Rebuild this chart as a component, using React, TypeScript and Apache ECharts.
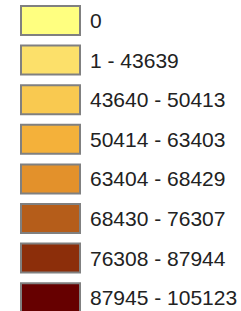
import React, { useEffect, useRef } from "react";
import * as echarts from "echarts";

const lowerBounds = [0, 1, 43640, 50414, 63404, 68430, 76308, 87945];
const upperBounds = [0, 43639, 50413, 63403, 68429, 76307, 87944, 105123];
const classColors = [
  "#FFFF80",
  "#FCE06A",
  "#F9C950",
  "#F4B13A",
  "#E3912B",
  "#B55D1A",
  "#8C2E0A",
  "#660000",
];

const classLabels = lowerBounds.map((lo, i) =>
  lo === upperBounds[i] ? `${lo}` : `${lo} - ${upperBounds[i]}`
);

export default function App() {
  const ref = useRef<HTMLDivElement>(null);
  useEffect(() => {
    if (!ref.current) return;
    const chart = echarts.init(ref.current, undefined, { renderer: "svg" });
    chart.setOption({
      animation: false,
      backgroundColor: "#ffffff",
      grid: { left: 0, right: 0, top: 0, bottom: 0, show: false },
      xAxis: { type: "category", show: false, data: [] },
      yAxis: { type: "value", show: false },
      legend: {
        type: "plain",
        orient: "vertical",
        left: 20,
        top: 5,
        height: 400,
        padding: 0,
        itemWidth: 59,
        itemHeight: 29,
        itemGap: 8.6,
        icon: "rect",
        selectedMode: false,
        itemStyle: { borderColor: "#808080", borderWidth: 2 },
        textStyle: {
          fontFamily: "Liberation Sans, Arial, sans-serif",
          fontSize: 21,
          color: "#222222",
          padding: [0, 0, 0, 5],
        },
        data: classLabels,
      },
      series: classLabels.map((name, i) => ({
        type: "bar",
        name,
        data: [],
        itemStyle: { color: classColors[i] },
      })),
    });
    return () => chart.dispose();
  }, []);
  return (
    <div
      ref={ref}
      style={{ position: "fixed", left: 0, top: 0, width: 241, height: 311 }}
    />
  );
}
